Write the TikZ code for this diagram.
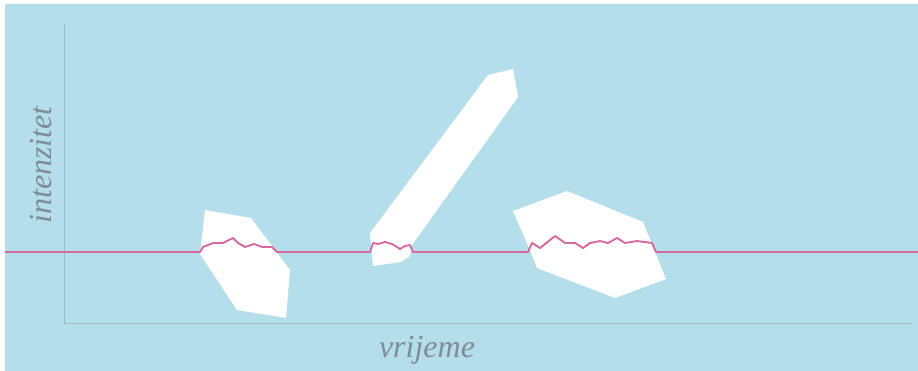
\documentclass[tikz,border=0pt]{standalone}
\usepackage{fontspec}
\setmainfont{Liberation Serif}
\begin{document}
\begin{tikzpicture}[x=0.75pt,y=-0.75pt,
  blob/.style={fill=white,draw=none},
  axis/.style={draw=axisc,line width=0.6pt},
  signal/.style={draw=sigc,line width=1.4pt,line join=round},
  lab/.style={text=labc,font=\itshape\fontsize{24}{27}\selectfont,inner sep=0pt}]
\definecolor{bgc}{RGB}{180,222,234}
\definecolor{axisc}{RGB}{156,186,200}
\definecolor{sigc}{RGB}{214,104,160}
\definecolor{labc}{RGB}{128,140,154}
\useasboundingbox (0,0) rectangle (918,371);
\fill[white] (0,0) rectangle (918,371);
\fill[bgc] (5,4) rectangle (918,371);
% axes
\coordinate (o) at (64,323);
\coordinate (ytop) at (64,24);
\coordinate (xend) at (912,323);
\draw[axis] (ytop) -- (o) -- (xend);
% white shapes
\fill[blob] (205,210) -- (251,218) -- (290,270) -- (286,318) -- (237,310) -- (200,254) -- cycle;
\fill[blob] (488,75) -- (513,69) -- (518,97) -- (412,245) -- (410,256) -- (401,262) -- (373,266) -- (370,233) -- cycle;
\fill[blob] (513,211) -- (567,191) -- (643,222) -- (666,279) -- (615,298) -- (537,268) -- (530,250) -- cycle;
% signal
\draw[signal] (5,252) -- (200,252) -- (203,247) -- (213,243) -- (223,243) -- (233,238) -- (238,243)
  -- (245,247) -- (254,244) -- (262,247) -- (272,247) -- (277,252)
  -- (370,252) -- (373,243) -- (378,244) -- (385,242) -- (392,244) -- (400,249) -- (405,246) -- (410,245) -- (413,252)
  -- (528,252) -- (532,243) -- (540,248) -- (555,236) -- (565,243) -- (575,243) -- (583,248) -- (590,243)
  -- (600,241) -- (608,243) -- (617,238) -- (625,243) -- (637,241) -- (652,243) -- (656,252) -- (918,252);
% labels
\node[lab] (ylab) at (41,165) [rotate=90] {intenzitet};
\node[lab] (xlab) at (427,350) {vrijeme};
\end{tikzpicture}
\end{document}
